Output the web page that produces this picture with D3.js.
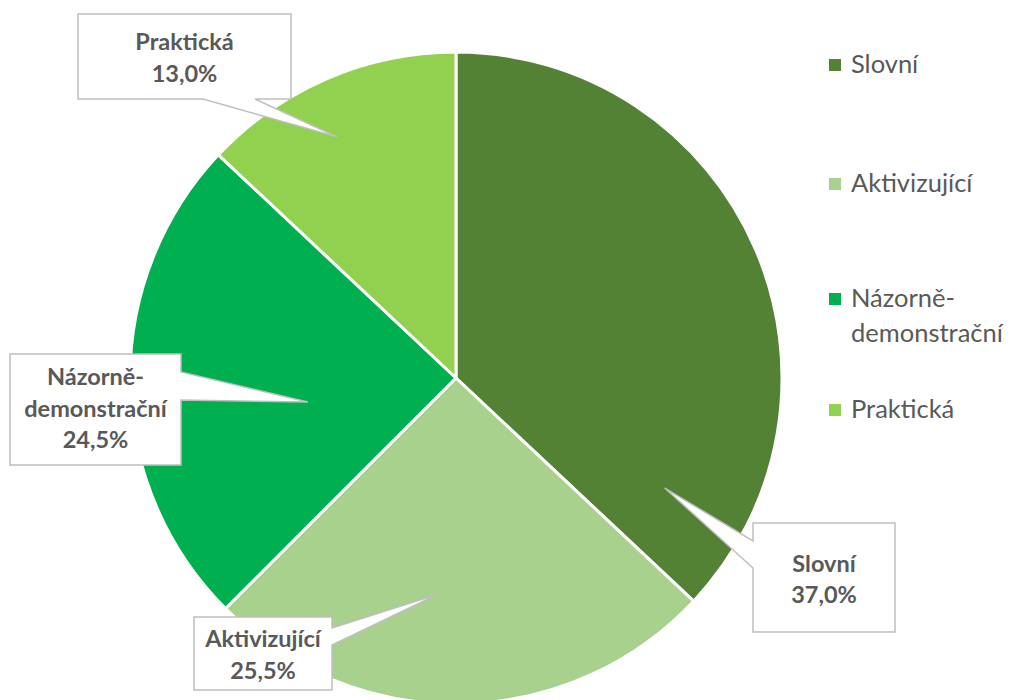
<!DOCTYPE html>
<html>
<head>
<meta charset="utf-8">
<script src="https://cdn.jsdelivr.net/npm/d3@7/dist/d3.min.js"></script>
<style>
  html, body { margin: 0; padding: 0; background: #fff; }
  svg { display: block; }
</style>
</head>
<body>
<svg id="chart" width="1018" height="700"></svg>
<script>
// Teaching method shares
const categories = ["Slovní", "Aktivizující", "Názorně-demonstrační", "Praktická"];
const values = [37.0, 25.5, 24.5, 13.0];
const colors = ["#548235", "#A9D18E", "#00B050", "#92D050"];
// legend text split into lines
const legendLines = [["Slovní"], ["Aktivizující"], ["Názorně-", "demonstrační"], ["Praktická"]];
// data label name lines
const labelLines = [["Slovní"], ["Aktivizující"], ["Názorně-", "demonstrační"], ["Praktická"]];

const svg = d3.select("#chart");
const cx = 456, cy = 378, radius = 326;
const textColor = "#595959";
const font = "Lato, 'Open Sans', sans-serif";

const pie = d3.pie().sort(null).value(d => d);
const arcs = pie(values);
const arc = d3.arc().innerRadius(0).outerRadius(radius);

const g = svg.append("g").attr("transform", `translate(${cx},${cy})`);
g.selectAll("path.slice")
  .data(arcs)
  .join("path")
  .attr("class", "slice")
  .attr("d", arc)
  .attr("fill", (d, i) => colors[i])
  .attr("stroke", "#fff")
  .attr("stroke-width", 3)
  .attr("stroke-linejoin", "round");

// Callout boxes: box rect, side where the pointer leaves, pointer base span, pointer tip (angle in deg from top, radius)
const callouts = [
  { box: [753, 523, 142, 109], side: "left",   base: [541, 568], tip: [117.8, 236], lines: [572, 603] },
  { box: [194, 617, 138, 73],  side: "right",  base: [628, 645], tip: [184.8, 217], lines: [647, 679] },
  { box: [10, 354, 171, 111],  side: "right",  base: [372, 400], tip: [-99.2, 150], lines: [385, 417, 448] },
  { box: [78, 14, 213, 85],    side: "bottom", base: [203, 255], tip: [-26.3, 269], lines: [50, 82] }
];

function tipPoint(t) {
  const a = t[0] * Math.PI / 180;
  return [cx + t[1] * Math.sin(a), cy - t[1] * Math.cos(a)];
}

function calloutPath(c) {
  const [x, y, w, h] = c.box;
  const [tx, ty] = tipPoint(c.tip);
  const p = d3.path();
  p.moveTo(x, y);
  p.lineTo(x + w, y);
  if (c.side === "right") {
    p.lineTo(x + w, c.base[0]);
    p.lineTo(tx, ty);
    p.lineTo(x + w, c.base[1]);
  }
  p.lineTo(x + w, y + h);
  if (c.side === "bottom") {
    p.lineTo(c.base[1], y + h);
    p.lineTo(tx, ty);
    p.lineTo(c.base[0], y + h);
  }
  p.lineTo(x, y + h);
  if (c.side === "left") {
    p.lineTo(x, c.base[1]);
    p.lineTo(tx, ty);
    p.lineTo(x, c.base[0]);
  }
  p.closePath();
  return p.toString();
}

const fmt = v => v.toFixed(1).replace(".", ",") + "%";

const labels = svg.append("g").attr("class", "labels");
callouts.forEach((c, i) => {
  labels.append("path")
    .attr("d", calloutPath(c))
    .attr("fill", "#fff")
    .attr("stroke", "#BFBFBF")
    .attr("stroke-width", 1.5)
    .attr("stroke-linejoin", "miter");
  const texts = labelLines[i].concat([fmt(values[i])]);
  const mx = c.box[0] + c.box[2] / 2;
  texts.forEach((t, j) => {
    labels.append("text")
      .attr("x", mx)
      .attr("y", c.lines[j])
      .attr("text-anchor", "middle")
      .attr("font-family", font)
      .attr("font-weight", "bold")
      .attr("font-size", 23.5)
      .attr("fill", textColor)
      .text(t);
  });
});

// Legend
const legendY = [73, 192, 307, 418];
const legend = svg.append("g").attr("class", "legend");
categories.forEach((cat, i) => {
  legend.append("rect")
    .attr("x", 829)
    .attr("y", legendY[i] - 14)
    .attr("width", 12)
    .attr("height", 12)
    .attr("fill", colors[i]);
  legendLines[i].forEach((t, j) => {
    legend.append("text")
      .attr("x", 851)
      .attr("y", legendY[i] + j * 35)
      .attr("font-family", font)
      .attr("font-size", 25.5)
      .attr("fill", textColor)
      .text(t);
  });
});
</script>
</body>
</html>
